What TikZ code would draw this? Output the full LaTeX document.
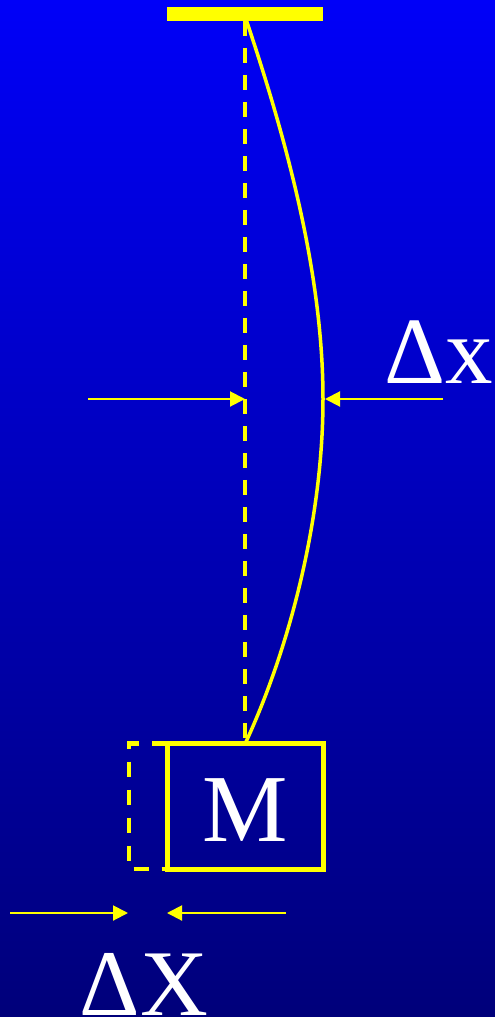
\documentclass[tikz,border=0pt]{standalone}
\usepackage{fontspec}
\setmainfont{Liberation Serif}
\usetikzlibrary{arrows.meta,calc}
\definecolor{skytop}{RGB}{0,0,248}
\definecolor{skybot}{RGB}{0,0,122}
\definecolor{wire}{RGB}{255,255,0}

\begin{document}
\begin{tikzpicture}[x=1pt,y=-1pt,
    push/.style={draw=wire, line width=2pt, -{Triangle[length=15pt,width=15pt]}},
    ghost/.style={draw=wire, line width=4pt, dash pattern=on 15pt off 12pt},
    lbl/.style={text=white, inner sep=0pt, anchor=base}]
    \shade[top color=skytop, bottom color=skybot] (0,0) rectangle (495,1017);
    \useasboundingbox (0,0) rectangle (495,1017);
    % ceiling bar and the hanging mass
    \node (ceil) [fill=wire, inner sep=0pt, outer sep=0pt,
        minimum width=156pt, minimum height=13.5pt] at (245,14) {};
    \node (mass) [draw=wire, line width=5pt, inner sep=0pt, outer sep=0pt,
        minimum width=156.5pt, minimum height=125.5pt] at (245.25,806.25) {};
    \node (mlbl) [lbl, font=\fontsize{96}{96}\selectfont] at (245,841) {M};
    % rest position (dashed) and bent wire
    \draw[ghost] (ceil.south) -- (ceil.south |- mass.north);
    \draw[draw=wire, line width=3.5pt]
        ($(ceil.south)+(1.5,0)$) .. controls (290,150) and (323,280) .. (323,399)
        .. controls (323,518) and (290,647) .. (mass.north);
    \draw[draw=wire, line width=4.5pt, dash pattern=on 15pt off 13pt]
        (mass.north west) -- ++(-38,0) |- (mass.south west);
    % deflection arrows
    \coordinate (rest) at (245,399);
    \coordinate (bulge) at (325,399);
    \coordinate (mfar) at (88,399);
    \coordinate (nfar) at (443,399);
    \draw[push] (mfar) -- (rest);
    \draw[push] (nfar) -- (bulge);
    \node (dx) [lbl, font=\fontsize{95}{95}\selectfont] at (439,383) {Δx};
    % shift of the mass
    \coordinate (oldm) at (128,913);
    \coordinate (newm) at (167,913);
    \coordinate (pfar) at (10,913);
    \coordinate (qfar) at (286,913);
    \draw[push] (pfar) -- (oldm);
    \draw[push] (qfar) -- (newm);
    \node (dX) [lbl, font=\fontsize{94}{94}\selectfont] at (144,1015) {ΔX};
\end{tikzpicture}
\end{document}
